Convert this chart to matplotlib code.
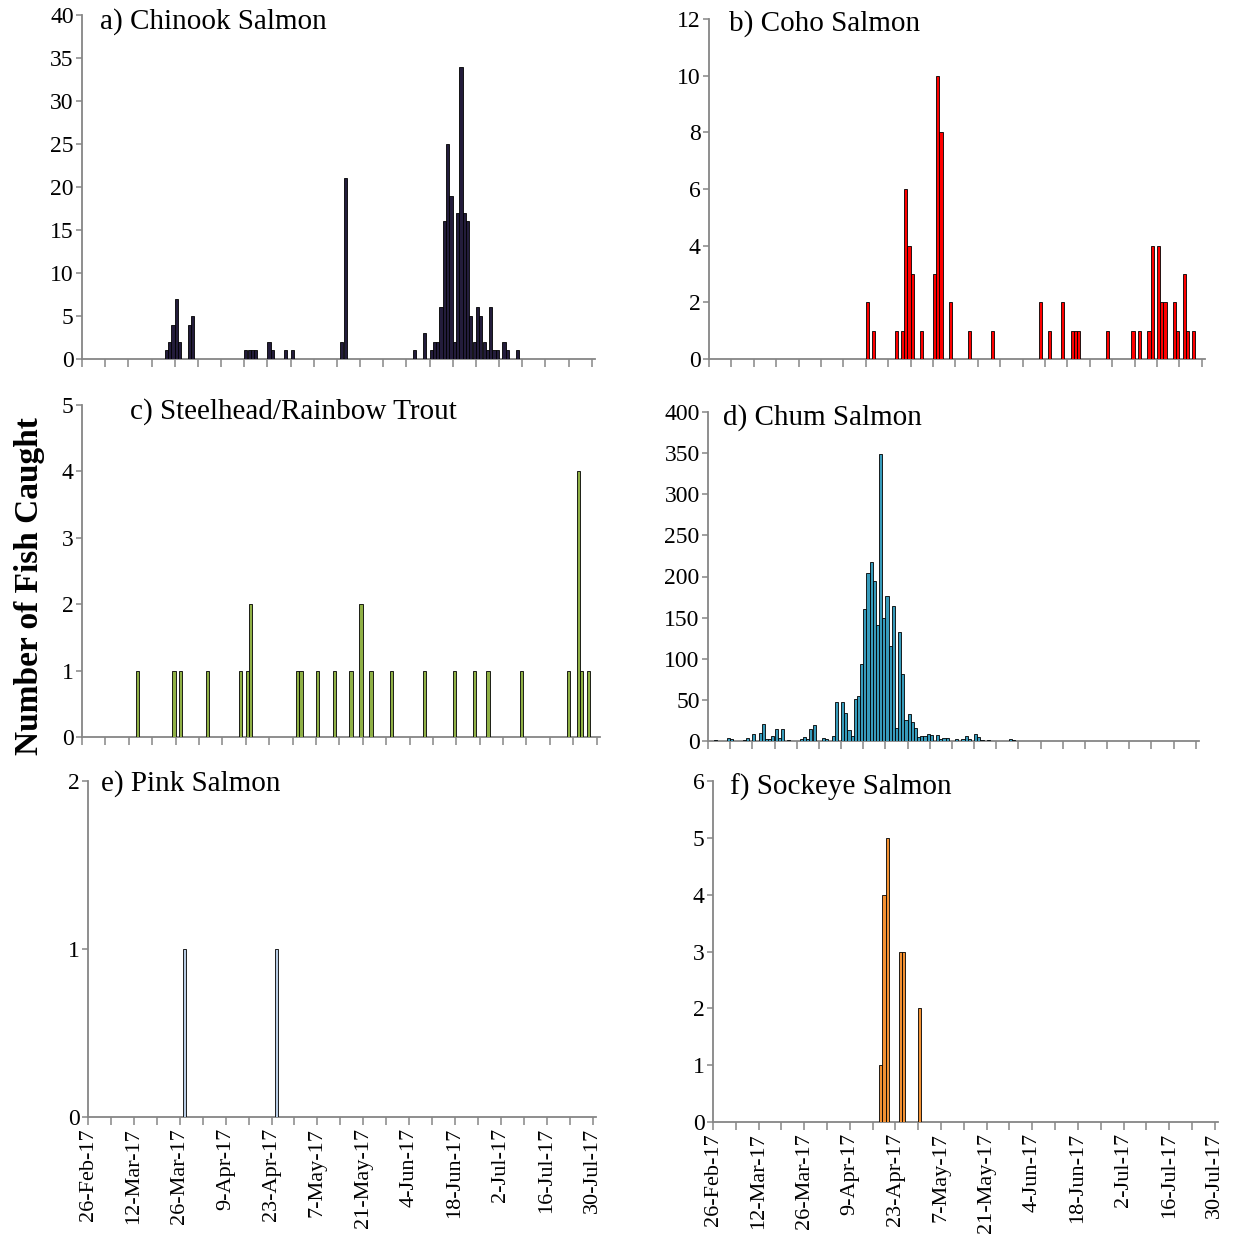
import matplotlib
matplotlib.use("Agg")
import matplotlib.pyplot as plt
import matplotlib.dates as mdates
import matplotlib.ticker as mticker
import pandas as pd
import numpy as np

# ---------------- data ----------------
season_start = "2017-02-26"
season_days = 155

chinook_dates = ["2017-03-23", "2017-03-24", "2017-03-25", "2017-03-26", "2017-03-27",
                 "2017-03-30", "2017-03-31", "2017-04-16", "2017-04-17", "2017-04-18",
                 "2017-04-19", "2017-04-23", "2017-04-24", "2017-04-28", "2017-04-30",
                 "2017-05-15", "2017-05-16", "2017-06-06", "2017-06-09", "2017-06-11",
                 "2017-06-12", "2017-06-13", "2017-06-14", "2017-06-15", "2017-06-16",
                 "2017-06-17", "2017-06-18", "2017-06-19", "2017-06-20", "2017-06-21",
                 "2017-06-22", "2017-06-23", "2017-06-24", "2017-06-25", "2017-06-26",
                 "2017-06-27", "2017-06-28", "2017-06-29", "2017-06-30", "2017-07-01",
                 "2017-07-03", "2017-07-04", "2017-07-07"]
chinook_counts = [1, 2, 4, 7, 2,
                  4, 5, 1, 1, 1,
                  1, 2, 1, 1, 1,
                  2, 21, 1, 3, 1,
                  2, 2, 6, 16, 25,
                  19, 2, 17, 34, 17,
                  16, 5, 2, 6, 5,
                  2, 1, 6, 1, 1,
                  2, 1, 1]

coho_dates = ["2017-04-16", "2017-04-18", "2017-04-25", "2017-04-27", "2017-04-28",
              "2017-04-29", "2017-04-30", "2017-05-03", "2017-05-07", "2017-05-08",
              "2017-05-09", "2017-05-12", "2017-05-18", "2017-05-25", "2017-06-09",
              "2017-06-12", "2017-06-16", "2017-06-19", "2017-06-20", "2017-06-21",
              "2017-06-30", "2017-07-08", "2017-07-10", "2017-07-13", "2017-07-14",
              "2017-07-16", "2017-07-17", "2017-07-18", "2017-07-21", "2017-07-22",
              "2017-07-24", "2017-07-25", "2017-07-27"]
coho_counts = [2, 1, 1, 1, 6,
               4, 3, 1, 3, 10,
               8, 2, 1, 1, 2,
               1, 2, 1, 1, 1,
               1, 1, 1, 1, 4,
               4, 2, 2, 2, 1,
               3, 1, 1]

steelhead_dates = ["2017-03-14", "2017-03-25", "2017-03-27", "2017-04-04", "2017-04-14",
                   "2017-04-16", "2017-04-17", "2017-05-01", "2017-05-02", "2017-05-07",
                   "2017-05-12", "2017-05-17", "2017-05-20", "2017-05-23", "2017-05-29",
                   "2017-06-08", "2017-06-17", "2017-06-23", "2017-06-27", "2017-07-07",
                   "2017-07-21", "2017-07-24", "2017-07-25", "2017-07-27"]
steelhead_counts = [1, 1, 1, 1, 1,
                    1, 2, 1, 1, 1,
                    1, 1, 2, 1, 1,
                    1, 1, 1, 1, 1,
                    1, 4, 1, 1]

chum_dates = ["2017-02-28", "2017-03-04", "2017-03-05", "2017-03-09", "2017-03-10",
              "2017-03-12", "2017-03-14", "2017-03-15", "2017-03-16", "2017-03-17",
              "2017-03-18", "2017-03-19", "2017-03-20", "2017-03-21", "2017-03-23",
              "2017-03-27", "2017-03-28", "2017-03-29", "2017-03-30", "2017-03-31",
              "2017-04-03", "2017-04-04", "2017-04-06", "2017-04-07", "2017-04-09",
              "2017-04-10", "2017-04-11", "2017-04-12", "2017-04-13", "2017-04-14",
              "2017-04-15", "2017-04-16", "2017-04-17", "2017-04-18", "2017-04-19",
              "2017-04-20", "2017-04-21", "2017-04-22", "2017-04-23", "2017-04-24",
              "2017-04-25", "2017-04-26", "2017-04-27", "2017-04-28", "2017-04-29",
              "2017-04-30", "2017-05-01", "2017-05-02", "2017-05-03", "2017-05-04",
              "2017-05-05", "2017-05-06", "2017-05-07", "2017-05-09", "2017-05-10",
              "2017-05-11", "2017-05-12", "2017-05-15", "2017-05-17", "2017-05-18",
              "2017-05-19", "2017-05-21", "2017-05-22", "2017-05-23", "2017-05-25",
              "2017-06-01", "2017-06-02"]
chum_counts = [1, 4, 2, 1, 4,
               9, 10, 21, 2, 2,
               6, 14, 4, 14, 1,
               2, 5, 2, 15, 20,
               4, 2, 6, 48, 48,
               34, 13, 6, 51, 55,
               94, 160, 204, 218, 195,
               141, 349, 149, 176, 115,
               164, 16, 133, 81, 25,
               33, 23, 16, 5, 6,
               6, 9, 7, 7, 2,
               4, 4, 2, 3, 6,
               2, 8, 5, 1, 1,
               2, 1]

pink_dates = ["2017-03-27", "2017-04-24"]
pink_counts = [1, 1]

sockeye_dates = ["2017-04-18", "2017-04-19", "2017-04-20", "2017-04-24", "2017-04-25",
                 "2017-04-30"]
sockeye_counts = [1, 4, 5, 3, 3, 2]

titles = ["a) Chinook Salmon", "b) Coho Salmon", "c) Steelhead/Rainbow Trout",
          "d) Chum Salmon", "e) Pink Salmon", "f) Sockeye Salmon"]
y_max = [40, 12, 5, 400, 2, 6]
y_step = [5, 2, 1, 50, 1, 1]
y_label = "Number of Fish Caught"

# ---------------- styling / layout ----------------
plt.rcParams["font.family"] = ["Liberation Serif", "DejaVu Serif"]
W, H = 1238, 1236
fig = plt.figure(figsize=(W / 100, H / 100), dpi=100)

series = [
    (chinook_dates, chinook_counts, "#231c3b"),
    (coho_dates, coho_counts, "#ff0000"),
    (steelhead_dates, steelhead_counts, "#8fb045"),
    (chum_dates, chum_counts, "#379bbb"),
    (pink_dates, pink_counts, "#b9cde5"),
    (sockeye_dates, sockeye_counts, "#f39133"),
]

# pixel boxes: x0, x1, ytop, ybottom
boxes = [
    (82, 595, 15, 359),
    (709, 1205, 19, 359),
    (82, 600, 405, 737),
    (708, 1199, 412, 741),
    (88, 596, 781, 1117),
    (713, 1218, 781, 1122),
]
title_pos = [(100, 22), (729, 24), (130, 412), (723, 418), (101, 784), (730, 787)]

start_num = mdates.date2num(pd.Timestamp(season_start))
major = [start_num + 14 * k for k in range(12)]
minor = [start_num + 7 + 14 * k for k in range(11)]

def fmt_date(x, pos=None):
    d = mdates.num2date(x)
    return f"{d.day}-{d:%b-%y}"

grey = "#868686"
for i, ((dates, counts, color), (x0, x1, yt, yb)) in enumerate(zip(series, boxes)):
    ax = fig.add_axes([x0 / W, 1 - yb / H, (x1 - x0) / W, (yb - yt) / H])
    xs = mdates.date2num(pd.to_datetime(dates))
    ax.bar(xs + 0.5, counts, width=0.97, color=color, edgecolor="black",
           linewidth=0.6, zorder=3)
    ax.set_xlim(start_num, start_num + season_days)
    ax.set_ylim(0, y_max[i])
    ax.set_yticks(np.arange(0, y_max[i] + 0.001, y_step[i]))
    ax.xaxis.set_major_locator(mticker.FixedLocator(major))
    ax.xaxis.set_minor_locator(mticker.FixedLocator(minor))
    if i >= 4:
        ax.xaxis.set_major_formatter(mticker.FuncFormatter(fmt_date))
        ax.tick_params(axis="x", which="major", labelrotation=90, labelsize=16, pad=2)
    else:
        ax.tick_params(axis="x", which="both", labelbottom=False)
    ax.xaxis.set_minor_formatter(mticker.NullFormatter())
    ax.tick_params(axis="x", which="both", direction="out", length=6, width=1.1, color=grey)
    ax.tick_params(axis="y", direction="out", length=4, width=1.1, color=grey,
                   labelsize=17, pad=2)
    for s in ("top", "right"):
        ax.spines[s].set_visible(False)
    for s in ("left", "bottom"):
        ax.spines[s].set_color(grey)
        ax.spines[s].set_linewidth(1.3)
    tx, ty = title_pos[i]
    ax.text((tx - x0) / (x1 - x0), (yb - ty) / (yb - yt), titles[i],
            transform=ax.transAxes, fontsize=21, ha="left", va="center")
    ax.patch.set_alpha(0)

fig.text(30 / W, 1 - 586 / H, y_label, rotation=90, ha="center", va="center",
         fontsize=24, fontweight="bold")

fig.savefig("out.png", dpi=100, facecolor="white")
